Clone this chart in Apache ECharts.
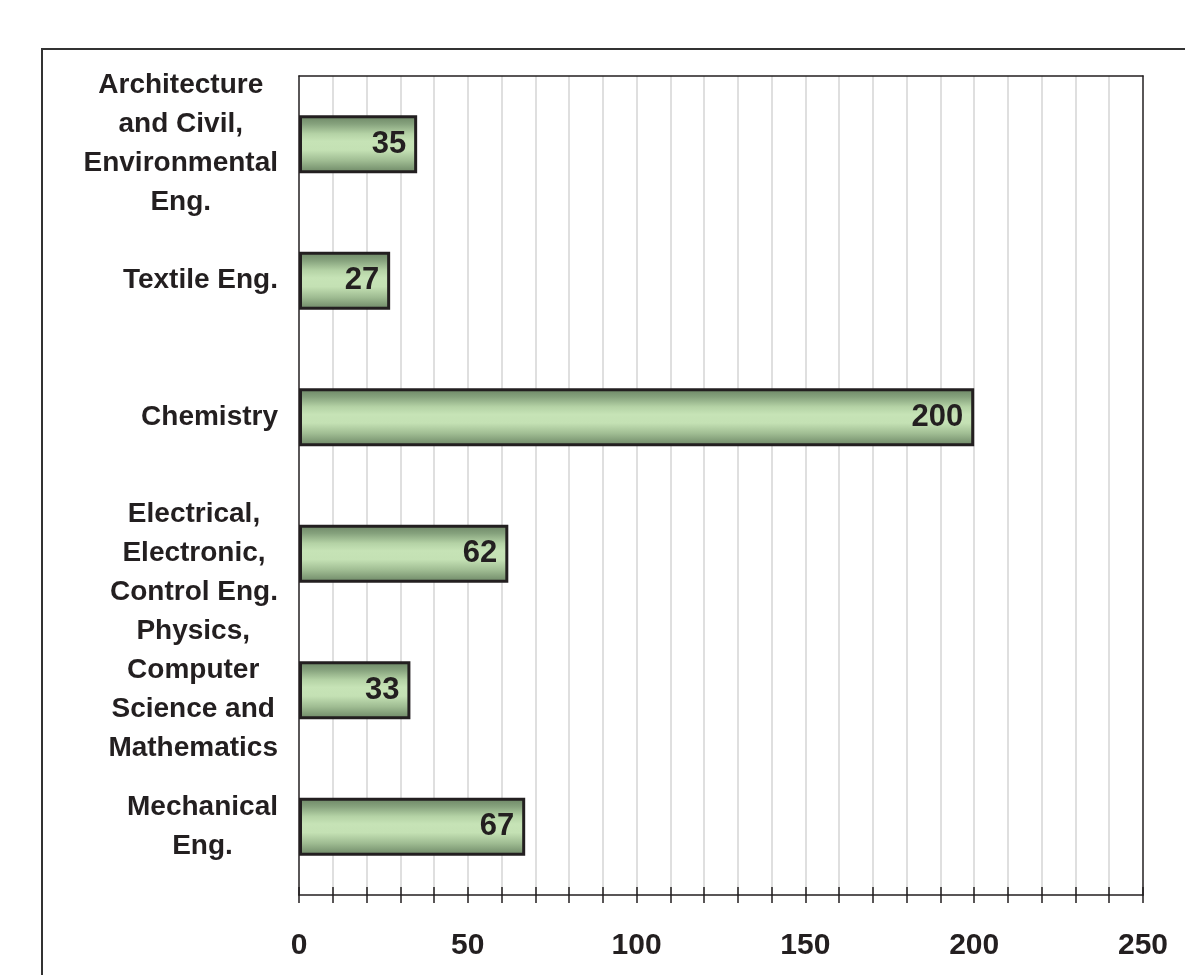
<!DOCTYPE html>
<html>
<head>
<meta charset="utf-8">
<script src="https://cdn.jsdelivr.net/npm/echarts@6/dist/echarts.min.js"></script>
<style>
html,body{margin:0;padding:0;background:#fff;}
#chart{width:1185px;height:975px;}
</style>
</head>
<body>
<div id="chart"></div>
<script>
// Categories from top to bottom
var categories = [
  'Architecture\nand Civil,\nEnvironmental\nEng.',
  'Textile Eng.',
  'Chemistry',
  'Electrical,\nElectronic,\nControl Eng.',
  'Physics,\nComputer\nScience and\nMathematics',
  'Mechanical\nEng.'
];
var values = [35, 27, 200, 62, 33, 67];
var xTickLabels = [0, 50, 100, 150, 200, 250];

var chart = echarts.init(document.getElementById('chart'));
var barGradient = new echarts.graphic.LinearGradient(0, 0, 0, 1, [
  {offset: 0, color: '#6a8463'},
  {offset: 0.15, color: '#86a27d'},
  {offset: 0.32, color: '#b4d2a5'},
  {offset: 0.45, color: '#c6e3b6'},
  {offset: 0.6, color: '#c4e1b4'},
  {offset: 0.78, color: '#a0bd93'},
  {offset: 1, color: '#6a8463'}
]);
var font = '"Liberation Sans", Arial, sans-serif';
var dark = '#231f20';
var option = {
  backgroundColor: '#fff',
  animation: false,
  graphic: [{
    type: 'rect',
    shape: {x: 42, y: 49, width: 1300, height: 1100},
    style: {fill: 'none', stroke: '#333', lineWidth: 2},
    silent: true
  }],
  grid: {
    left: 299, right: 42, top: 76, bottom: 80,
    show: false
  },
  xAxis: [{
    type: 'value', min: 0, max: 250, interval: 10,
    axisLine: {show: true, lineStyle: {color: dark, width: 1.5}},
    axisTick: {show: true, length: 8, lineStyle: {color: dark, width: 1.5}},
    splitLine: {show: true, showMinLine: false, showMaxLine: false, lineStyle: {color: '#d4d4d4', width: 1.5}},
    axisLabel: {
      margin: 36, fontSize: 30, fontWeight: 'bold', color: dark, fontFamily: font,
      formatter: function (v) { return xTickLabels.indexOf(v) >= 0 ? String(v) : ''; }
    }
  }, {
    type: 'value', min: 0, max: 250, interval: 10, position: 'bottom',
    axisLine: {show: false},
    axisTick: {show: true, inside: true, length: 8, lineStyle: {color: dark, width: 1.5}},
    splitLine: {show: false},
    axisLabel: {show: false}
  }, {
    type: 'value', min: 0, max: 250, interval: 10, position: 'top',
    axisLine: {show: true, onZero: false, lineStyle: {color: dark, width: 1.5}},
    axisTick: {show: false},
    splitLine: {show: false},
    axisLabel: {show: false}
  }],
  yAxis: [{
    type: 'category', data: categories, inverse: true,
    axisLine: {show: true, lineStyle: {color: dark, width: 1.5}},
    axisTick: {show: false},
    axisLabel: {
      margin: 21, align: 'right',
      formatter: function (v) {
        return v.split('\n').map(function (l) { return '{a|' + l + '}'; }).join('\n');
      },
      rich: {
        a: {align: 'center', fontSize: 28, fontWeight: 'bold', color: dark, fontFamily: font, lineHeight: 39}
      }
    }
  }, {
    type: 'category', data: categories, inverse: true, position: 'right',
    axisLine: {show: true, onZero: false, lineStyle: {color: dark, width: 1.5}},
    axisTick: {show: false},
    axisLabel: {show: false}
  }],
  series: [{
    type: 'bar', data: values, barWidth: 58, xAxisIndex: 0, yAxisIndex: 0,
    itemStyle: {color: barGradient, borderColor: dark, borderWidth: 3},
    label: {
      show: true, position: 'insideRight', distance: 11,
      fontSize: 31, fontWeight: 'bold', color: dark, fontFamily: font
    }
  }]
};
chart.setOption(option);
</script>
</body>
</html>
